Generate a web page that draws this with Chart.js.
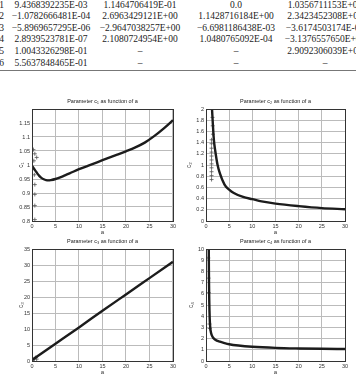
<!DOCTYPE html>
<html>
<head>
<meta charset="utf-8">
<title>Parameters c1..c4 as function of a</title>
<script src="https://cdn.jsdelivr.net/npm/chart.js"></script>
<style>
  body { margin: 0; background: #fff; }
  #page { position: relative; width: 356px; height: 378px; overflow: hidden; }
  .cell { position: absolute; width: 110px; text-align: center; font: 9.5px 'Liberation Serif', serif; color: #222; line-height: 11px; white-space: nowrap; }
  .idx { text-align: right; width: 20px; }
  .rule { position: absolute; left: 0; top: 70px; width: 356px; height: 1px; background: #777; }
  canvas { position: absolute; }
</style>
</head>
<body>
<div id="page">
  <div id="table"></div>
  <div class="rule"></div>
  <canvas id="p1" width="178" height="145" style="left:0;top:90px"></canvas>
  <canvas id="p2" width="178" height="145" style="left:178px;top:90px"></canvas>
  <canvas id="p3" width="178" height="145" style="left:0;top:230px"></canvas>
  <canvas id="p4" width="178" height="145" style="left:178px;top:230px"></canvas>
</div>
<script>
// table values
const rowIdx = ['1', '2', '3', '4', '5', '6'];
const colA = ['9.4368392235E-03', '\u22121.0782666481E-04', '\u22125.8969657295E-06', '2.8939523781E-07', '1.0043326298E-01', '5.5637848465E-01'];
const colB = ['1.1464706419E-01', '2.6963429121E+00', '\u22122.9647038257E+00', '2.1080724954E+00', '\u2013', '\u2013'];
const colC = ['0.0', '1.1428716184E+00', '\u22126.6981186438E-03', '1.0480765092E-04', '\u2013', '\u2013'];
const colD = ['1.0356711153E+00', '2.3423452308E+00', '\u22123.6174503174E-01', '\u22123.1376557650E+00', '2.9092306039E+00', '\u2013'];

// c1 curve and raw points
const a1 = [0, 0.5, 1, 1.5, 2, 2.5, 3, 3.5, 4, 5, 6, 7, 8, 10, 12, 15, 18, 20, 22, 24, 26, 28, 30];
const c1 = [0.997, 0.985, 0.973, 0.962, 0.954, 0.949, 0.946, 0.945, 0.946, 0.950, 0.956, 0.963, 0.970, 0.985, 0.998, 1.017, 1.036, 1.049, 1.063, 1.080, 1.103, 1.130, 1.160];
const a1pts = [0.3, 0.6, 1.0, 0.4, 0.5, 0.6, 0.6, 0.6, 0.6];
const c1pts = [1.055, 1.04, 1.027, 1.015, 0.965, 0.93, 0.895, 0.855, 0.805];

// c2
const a2 = [1.3, 1.5, 1.7, 2.0, 2.5, 3, 4, 5, 6, 8, 10, 12, 15, 20, 25, 30];
const c2 = [2.0, 1.7, 1.45, 1.25, 1.0, 0.85, 0.65, 0.56, 0.5, 0.43, 0.39, 0.35, 0.31, 0.265, 0.23, 0.21];
const a2pts = [1.2, 1.2, 1.2, 1.2, 1.2, 1.2, 1.2, 1.2, 1.2, 1.2, 1.2, 1.4, 1.45, 1.5];
const c2pts = [1.45, 1.38, 1.3, 1.23, 1.16, 1.09, 1.02, 0.95, 0.88, 0.81, 0.74, 1.85, 1.7, 1.55];

// c3
const a3 = [0, 5, 10, 15, 20, 25, 30];
const c3 = [0.3, 5.4, 10.5, 15.7, 20.8, 25.9, 31.0];
const a3pts = [0.2, 0.5, 0.8, 1.0];
const c3pts = [0.3, 0.7, 1.1, 0.6];

// c4
const a4 = [0.6, 0.62, 0.65, 0.7, 0.75, 0.8, 0.9, 1.0, 1.2, 1.5, 2, 3, 4, 5, 7, 10, 15, 20, 25, 30];
const c4 = [10, 8.5, 7, 5.5, 4.5, 3.8, 3.1, 2.7, 2.35, 2.1, 1.9, 1.72, 1.6, 1.5, 1.38, 1.27, 1.17, 1.12, 1.09, 1.07];
const a4pts = [0.5, 0.55, 0.6, 0.75, 0.8];
const c4pts = [9.2, 7.4, 6.1, 3.3, 2.9];

// table
const tbl = document.getElementById('table');
const cols = [[rowIdx, -16, 'cell idx'], [colA, -4, 'cell'], [colB, 85, 'cell'], [colC, 181, 'cell'], [colD, 270, 'cell']];
cols.forEach(([vals, left, cls]) => {
  vals.forEach((v, i) => {
    const d = document.createElement('div');
    d.className = cls;
    d.style.left = left + 'px';
    d.style.top = (i * 11.6 - 0.5) + 'px';
    d.textContent = v;
    tbl.appendChild(d);
  });
});

// box around the axes, like matlab
const frame = {
  id: 'frame',
  afterDraw(chart) {
    const { ctx, chartArea: ca } = chart;
    ctx.save();
    ctx.strokeStyle = '#333';
    ctx.lineWidth = 1;
    ctx.strokeRect(Math.round(ca.left) + 0.5, Math.round(ca.top) + 0.5, Math.round(ca.width), Math.round(ca.height));
    ctx.restore();
  }
};

const sans = "'Liberation Sans', Arial, sans-serif";
const fmt = v => String(Math.round(v * 100) / 100);

function plot(id, o) {
  new Chart(document.getElementById(id), {
    type: 'scatter',
    data: {
      datasets: [
        {
          data: o.xs.map((x, i) => ({ x, y: o.ys[i] })),
          showLine: true,
          borderColor: '#1c1c1c',
          borderWidth: 2.4,
          pointRadius: 0,
          cubicInterpolationMode: 'monotone'
        },
        {
          data: o.px.map((x, i) => ({ x, y: o.py[i] })),
          pointStyle: 'cross',
          pointRadius: 2,
          borderWidth: 0.8,
          borderColor: '#555',
          backgroundColor: '#555'
        }
      ]
    },
    plugins: [frame],
    options: {
      responsive: false,
      animation: false,
      layout: { padding: { left: o.padLeft, right: o.padRight, top: 0, bottom: 0 } },
      plugins: {
        legend: { display: false },
        tooltip: { enabled: false },
        title: {
          display: true,
          text: o.title,
          fullSize: false,
          color: '#222',
          font: { family: sans, size: 5.5, weight: 'normal', lineHeight: 1.2 },
          padding: { top: 7.7, bottom: 4.7 }
        }
      },
      scales: {
        x: {
          type: 'linear', min: 0, max: 30,
          ticks: { stepSize: 5, color: '#333', padding: 2, maxRotation: 0, font: { family: sans, size: 5.5 } },
          grid: { color: '#bbb', borderDash: [1, 2], drawTicks: false },
          border: { display: false },
          title: { display: true, text: 'a', color: '#333', font: { family: sans, size: 6, lineHeight: 1 }, padding: 0 },
          afterFit: s => { s.height = 14; }
        },
        y: {
          type: 'linear', min: o.ymin, max: o.ymax,
          ticks: {
            stepSize: o.ystep, color: '#333', padding: 2, font: { family: sans, size: 5.5 },
            callback: v => (o.hideTop && v >= o.ymax - 1e-9) ? '' : fmt(v)
          },
          grid: { color: '#bbb', borderDash: [1, 2], drawTicks: false },
          border: { display: false },
          title: { display: true, text: o.ylabel, color: '#333', font: { family: sans, size: 6.5, lineHeight: 1 }, padding: 0 },
          afterFit: s => { s.width = o.yWidth; }
        }
      }
    }
  });
}

plot('p1', { title: 'Parameter c\u2081 as function of a', ylabel: 'c\u2081', ymin: 0.8, ymax: 1.2, ystep: 0.05, hideTop: true,
  xs: a1, ys: c1, px: a1pts, py: c1pts, padLeft: 18, yWidth: 14, padRight: 5 });
plot('p2', { title: 'Parameter c\u2082 as function of a', ylabel: 'c\u2082', ymin: 0, ymax: 2, ystep: 0.2,
  xs: a2, ys: c2, px: a2pts, py: c2pts, padLeft: 8, yWidth: 20, padRight: 11 });
plot('p3', { title: 'Parameter c\u2083 as function of a', ylabel: 'c\u2083', ymin: 0, ymax: 35, ystep: 5,
  xs: a3, ys: c3, px: a3pts, py: c3pts, padLeft: 18, yWidth: 14, padRight: 5 });
plot('p4', { title: 'Parameter c\u2084 as function of a', ylabel: 'c\u2084', ymin: 0, ymax: 10, ystep: 1,
  xs: a4, ys: c4, px: a4pts, py: c4pts, padLeft: 10, yWidth: 18, padRight: 11 });
</script>
</body>
</html>
